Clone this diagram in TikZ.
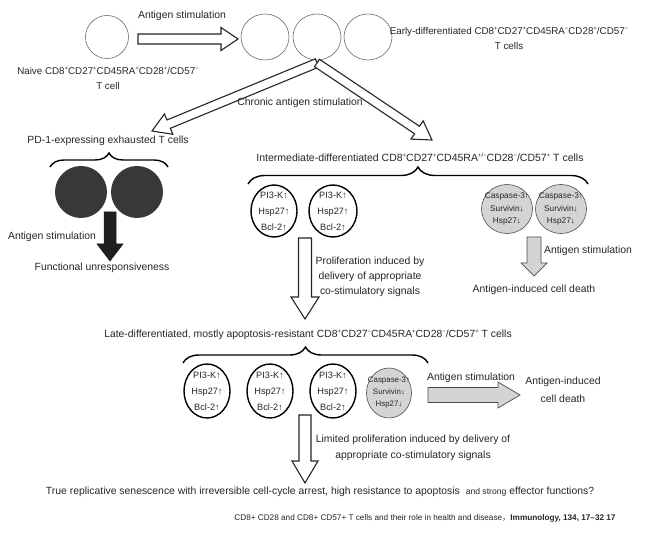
\documentclass[tikz,border=0pt]{standalone}
\usepackage{fontspec}
\setmainfont{Liberation Sans}
\newfontfamily\cjk{Noto Sans CJK SC}
\usetikzlibrary{calc,shapes.geometric,decorations.pathreplacing}
\newcommand\Sp{\raisebox{0.72ex}{\fontsize{6}{6}\selectfont +}}
\newcommand\Sm{\raisebox{0.72ex}{\fontsize{6}{6}\selectfont −}}
\newcommand\Spm{\raisebox{0.72ex}{\fontsize{6}{6}\selectfont +/−}}
\definecolor{txt}{HTML}{262626}
\definecolor{grayfill}{HTML}{D4D4D4}
\definecolor{darkc}{HTML}{383838}
% block arrow: [style]{start}{end}{half shaft}{half head}{head length}
\newcommand\blockarrow[6][]{%
  \path ($(#3)!#6!(#2)$) coordinate (ba-h);
  \draw[#1] ($(#2)!#4!90:(#3)$) -- ($(ba-h)!#4!-90:(#2)$) -- ($(ba-h)!#5!-90:(#2)$)
    -- (#3) -- ($(ba-h)!#5!90:(#2)$) -- ($(ba-h)!#4!90:(#2)$) -- ($(#2)!#4!-90:(#3)$) -- cycle;
}
\begin{document}
\begin{tikzpicture}[x=1pt,y=-1pt,
  lbl/.style={font=\fontsize{10.4}{15}\selectfont, text=txt, inner sep=0pt, align=center},
  thincell/.style={ellipse, draw=gray!85!black, line width=0.6pt, fill=white, inner sep=0pt},
  thickcell/.style={ellipse, draw=black, line width=1.4pt, fill=white, inner sep=0pt},
  graycell/.style={ellipse, draw=gray!60!black, line width=0.6pt, fill=grayfill, inner sep=0pt},
  celltext/.style={text=txt, align=center, inner sep=0pt, font=\fontsize{9.2}{16}\selectfont},
  graytext/.style={text=txt, align=center, inner sep=0pt, font=\fontsize{8.3}{12.5}\selectfont},
  darkcell/.style={ellipse, fill=darkc, inner sep=0pt},
  hollow/.style={draw=black!85, line width=1.1pt, fill=white, line join=miter},
  grayarrow/.style={draw=gray!60!black, line width=0.7pt, fill=grayfill, line join=miter},
  blackarrow/.style={draw=black!90, line width=0.5pt, fill=black!88},
  bracket/.style={draw=black, line width=1.4pt, decorate, decoration={brace, amplitude=#1}}
]
\fill[white] (0,0) rectangle (650,534);
\useasboundingbox (0,0) rectangle (650,534);

% ---- top row
\node[thincell, minimum width=43pt, minimum height=43pt] (naive) at (107,37) {};
\node[thincell, minimum width=48pt, minimum height=46pt] (e1) at (265,37) {};
\node[thincell, minimum width=48pt, minimum height=46pt] (e2) at (317,37) {};
\node[thincell, minimum width=48pt, minimum height=46pt] (e3) at (368,37) {};
\node[lbl] (ag1) at (182,16) {Antigen stimulation};
\node[lbl, font=\fontsize{9.8}{15}\selectfont] (naivet) at (108,78) {Naive CD8\Sp CD27\Sp CD45RA\Sp CD28\Sp/CD57\Sm\\T cell};
\node[lbl, font=\fontsize{9.8}{15}\selectfont] (earlyt) at (509,38) {Early-differentiated CD8\Sp CD27\Sp CD45RA\Sm CD28\Sp/CD57\Sm\\T cells};
\coordinate (a1s) at (138,39);
\coordinate (a1e) at (238,39);
\blockarrow[hollow]{a1s}{a1e}{5pt}{11.5pt}{17pt}

% ---- chronic
\coordinate (cs) at (317,63);
\coordinate (cl) at (152,131);
\coordinate (cr) at (432,140);
\blockarrow[hollow]{cs}{cl}{4.5pt}{11pt}{18pt}
\blockarrow[hollow]{cs}{cr}{4.5pt}{11pt}{18pt}
\node[lbl] (chron) at (300,103) {Chronic antigen stimulation};

% ---- exhausted branch
\node[lbl] (pd1) at (108,141) {PD-1-expressing exhausted T cells};
\coordinate (bl1) at (50,167);
\coordinate (bl2) at (168,167);
\draw[bracket=14pt] (bl1) -- (bl2);
\node[darkcell, minimum width=52pt, minimum height=52pt] (d1) at (81,192) {};
\node[darkcell, minimum width=52pt, minimum height=52pt] (d2) at (137,192) {};
\coordinate (ba1) at (110,212);
\coordinate (ba2) at (110,261);
\blockarrow[blackarrow]{ba1}{ba2}{6pt}{13pt}{17pt}
\node[lbl] (ag2) at (52,237) {Antigen stimulation};
\node[lbl] (func) at (102,268) {Functional unresponsiveness};

% ---- intermediate
\node[lbl, font=\fontsize{10.5}{15}\selectfont] (inter) at (420,157) {Intermediate-differentiated CD8\Sp CD27\Sp CD45RA\Spm CD28\Sm/CD57\Sp\ T cells};
\coordinate (br1) at (248,184);
\coordinate (br2) at (588,184);
\draw[bracket=17pt] (br1) -- (br2);
\node[thickcell, minimum width=46pt, minimum height=52pt] (i1) at (274,211) {};
\node[celltext] (i1t) at (i1) {PI3-K↑\\Hsp27↑\\Bcl-2↑};
\node[thickcell, minimum width=48pt, minimum height=52pt] (i2) at (333,211) {};
\node[celltext] (i2t) at (i2) {PI3-K↑\\Hsp27↑\\Bcl-2↑};
\node[graycell, minimum width=51pt, minimum height=49pt] (g1) at (507,209) {};
\node[graytext] (g1t) at (g1) {Caspase-3↑\\Survivin↓\\Hsp27↓};
\node[graycell, minimum width=51pt, minimum height=49pt] (g2) at (561,209) {};
\node[graytext] (g2t) at (g2) {Caspase-3↑\\Survivin↓\\Hsp27↓};
\coordinate (pa1) at (305,238);
\coordinate (pa2) at (305,319);
\blockarrow[hollow]{pa1}{pa2}{6.5pt}{14pt}{22pt}
\node[lbl] (prolif) at (370,277) {Proliferation induced by\\delivery of appropriate\\co-stimulatory signals};
\coordinate (ga1) at (534,237);
\coordinate (ga2) at (534,276);
\blockarrow[grayarrow]{ga1}{ga2}{7pt}{13pt}{13pt}
\node[lbl] (ag3) at (588,251) {Antigen stimulation};
\node[lbl] (death1) at (534,290) {Antigen-induced cell death};

% ---- late
\node[lbl] (late) at (308,335) {Late-differentiated, mostly apoptosis-resistant CD8\Sp CD27\Sm CD45RA\Sp CD28\Sm/CD57\Sp\ T cells};
\coordinate (bb1) at (183,363);
\coordinate (bb2) at (428,363);
\draw[bracket=16pt] (bb1) -- (bb2);
\node[thickcell, minimum width=46pt, minimum height=54pt] (l1) at (207,391) {};
\node[celltext] (l1t) at (l1) {PI3-K↑\\Hsp27↑\\Bcl-2↑};
\node[thickcell, minimum width=46pt, minimum height=54pt] (l2) at (270,391) {};
\node[celltext] (l2t) at (l2) {PI3-K↑\\Hsp27↑\\Bcl-2↑};
\node[thickcell, minimum width=46pt, minimum height=54pt] (l3) at (333,391) {};
\node[celltext] (l3t) at (l3) {PI3-K↑\\Hsp27↑\\Bcl-2↑};
\node[graycell, minimum width=45pt, minimum height=50pt] (l4) at (389,393) {};
\node[graytext, font=\fontsize{7.9}{12}\selectfont] (l4t) at (l4) {Caspase-3↑\\Survivin↓\\Hsp27↓};
\coordinate (ra1) at (428,395);
\coordinate (ra2) at (520,395);
\blockarrow[grayarrow]{ra1}{ra2}{7.5pt}{13pt}{22pt}
\node[lbl] (ag4) at (471,378) {Antigen stimulation};
\node[lbl, font=\fontsize{10.4}{18}\selectfont] (death2) at (563,390) {Antigen-induced\\cell death};
\coordinate (fa1) at (305,415);
\coordinate (fa2) at (305,483);
\blockarrow[hollow]{fa1}{fa2}{6pt}{13pt}{22pt}
\node[lbl, font=\fontsize{10.4}{16}\selectfont] (limited) at (413,448) {Limited proliferation induced by delivery of\\appropriate co-stimulatory signals};
\node[lbl] (true) at (320,492) {True replicative senescence with irreversible cell-cycle arrest, high resistance to apoptosis\ \ {\fontsize{8.6}{10}\selectfont and strong} effector functions?};
\node[lbl, font=\fontsize{8.2}{9}\selectfont] (cite) at (425,518) {CD8+ CD28 and CD8+ CD57+ T cells and their role in health and disease{\cjk ，}\textbf{Immunology, 134, 17–32 17}};
\end{tikzpicture}
\end{document}
